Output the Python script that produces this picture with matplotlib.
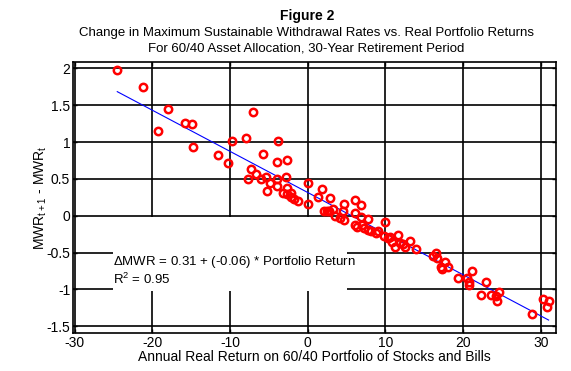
import numpy as np
import matplotlib
matplotlib.use("Agg")
import matplotlib.pyplot as plt
from matplotlib.patches import Rectangle

plt.rcParams['font.family'] = ['Liberation Sans', 'DejaVu Sans']
plt.rcParams['mathtext.default'] = 'regular'
plt.rcParams['axes.unicode_minus'] = False

# annual real return on 60/40 portfolio (%) vs change in MWR
real_return = [
    -24.5, -21.2, -18.0, -7.0, -15.8, -14.9, -19.3, -9.7, -7.9, -3.8,
    -14.7, -5.8, -11.6, -4.0, -2.6, -10.2, -7.3, -6.7, -7.7, -6.0,
    -5.4, -4.9, -4.0, -2.8, -4.0, -5.2, -2.6, -3.2, -2.2, -2.6,
    -2.1, -1.8, -1.3, 0.0, 0.0, 1.8, 1.35, 2.9, 2.1, 2.5,
    2.8, 3.3, 4.65, 4.6, 6.1, 6.8, 6.1, 3.5, 4.1, 4.7,
    6.1, 6.9, 7.8, 6.4, 7.0, 7.2, 7.8, 8.2, 8.8, 9.0,
    10.0, 9.8, 10.3, 10.6, 11.6, 10.9, 11.3, 11.9, 12.3, 12.5,
    13.2, 14.0, 16.1, 16.5, 16.6, 17.1, 17.3, 17.7, 18.0, 19.3,
    20.5, 20.7, 20.7, 21.2, 22.3, 22.9, 23.6, 24.2, 24.3, 24.6,
    28.9, 30.3, 31.0, 30.8,
]
mwr_change = [
    1.98, 1.74, 1.45, 1.41, 1.26, 1.25, 1.15, 1.02, 1.05, 1.02,
    0.93, 0.84, 0.83, 0.73, 0.75, 0.72, 0.63, 0.56, 0.50, 0.50,
    0.53, 0.44, 0.50, 0.52, 0.40, 0.34, 0.37, 0.31, 0.31, 0.29,
    0.25, 0.23, 0.20, 0.45, 0.16, 0.36, 0.26, 0.24, 0.07, 0.07,
    0.06, 0.09, 0.16, 0.07, 0.21, 0.15, 0.04, 0.00, -0.03, -0.06,
    -0.12, -0.02, -0.05, -0.15, -0.13, -0.17, -0.19, -0.21, -0.24, -0.21,
    -0.09, -0.27, -0.30, -0.29, -0.26, -0.36, -0.42, -0.37, -0.38, -0.43,
    -0.35, -0.45, -0.55, -0.51, -0.58, -0.69, -0.72, -0.63, -0.69, -0.85,
    -0.84, -0.90, -0.94, -0.75, -1.07, -0.90, -1.07, -1.09, -1.16, -1.04,
    -1.34, -1.13, -1.16, -1.24,
]
x_ticks = [-30, -20, -10, 0, 10, 20, 30]
y_ticks = [-1.5, -1, -0.5, 0, 0.5, 1, 1.5, 2]
y_tick_labels = ['-1.5', '-1', '-0.5', '0', '0.5', '1', '1.5', '2']

x = np.array(real_return)
y = np.array(mwr_change)

fig = plt.figure(figsize=(5.71, 3.71), dpi=100)
ax = fig.add_axes([0.1278, 0.1016, 0.8459, 0.7321])

ax.set_xlim(-30.2, 31.95)
ax.set_ylim(-1.596, 2.09)
ax.set_xticks(x_ticks)
ax.set_yticks(y_ticks)
ax.set_yticklabels(y_tick_labels)
ax.set_axisbelow(True)
ax.grid(True, color='black', linewidth=1.2, linestyle='-')
ax.tick_params(direction='in', length=3, width=1, top=True, right=True,
               labelsize=10, pad=2, colors='black')
for s in ax.spines.values():
    s.set_linewidth(1.2)

# regression fit line
slope, intercept = np.polyfit(x, y, 1)
xl = np.array([x.min(), x.max()])
ax.plot(xl, intercept + slope * xl, color='blue', linewidth=0.8, zorder=3)

ax.plot(x, y, linestyle='none', marker='o', markersize=5.3,
        markerfacecolor='none', markeredgecolor='red', markeredgewidth=1.8,
        zorder=4)

# white box behind the equation text
ax.add_patch(Rectangle((-25.1, -1.02), 30.2, 1.0, facecolor='white',
                       edgecolor='none', zorder=1.5))
ax.text(-25.0, -0.63, '$\\Delta$MWR = 0.31 + (-0.06) * Portfolio Return',
        fontsize=9.5, va='center', ha='left', zorder=2)
ax.text(-25.0, -0.87, 'R$^2$ = 0.95', fontsize=9.5, va='center', ha='left',
        zorder=2)

ax.set_xlabel('Annual Real Return on 60/40 Portfolio of Stocks and Bills',
              fontsize=10, labelpad=0)
ax.set_ylabel('MWR$_{t+1}$ - MWR$_t$', fontsize=10, labelpad=-2)

fig.text(0.537, 0.957, 'Figure 2', fontsize=10, fontweight='bold',
         ha='center', va='center')
fig.text(0.537, 0.912, 'Change in Maximum Sustainable Withdrawal Rates vs. Real Portfolio Returns',
         fontsize=9.5, ha='center', va='center')
fig.text(0.537, 0.869, 'For 60/40 Asset Allocation, 30-Year Retirement Period',
         fontsize=9.5, ha='center', va='center')

fig.savefig('out.png', dpi=100)
